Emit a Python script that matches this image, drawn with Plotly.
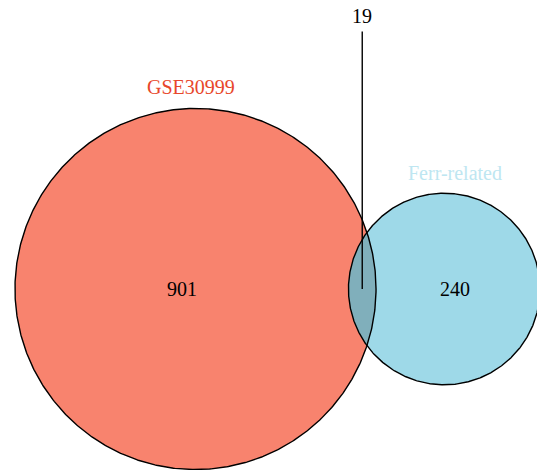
import numpy as np
import plotly.graph_objects as go

# Set sizes for the two-set Venn diagram
set_names = ["GSE30999", "Ferr-related"]
only_counts = [901, 240]
shared_count = 19

set_colors = ["#F8836E", "#9ED9E8"]
overlap_color = "#80AFBB"
title_colors = ["#E8472B", "#BEE6F1"]

# Area-proportional radii (area == count)
totals = [only_counts[0] + shared_count, only_counts[1] + shared_count]
r1, r2 = [np.sqrt(t / np.pi) for t in totals]


def lens_area(d, a, b):
    if d >= a + b:
        return 0.0
    if d <= abs(a - b):
        return np.pi * min(a, b) ** 2
    al = np.arccos((d * d + a * a - b * b) / (2 * d * a))
    be = np.arccos((d * d + b * b - a * a) / (2 * d * b))
    return a * a * (al - np.sin(2 * al) / 2) + b * b * (be - np.sin(2 * be) / 2)


lo, hi = abs(r1 - r2), r1 + r2
for _ in range(200):
    mid = (lo + hi) / 2
    if lens_area(mid, r1, r2) > shared_count:
        lo = mid
    else:
        hi = mid
d = (lo + hi) / 2

c1 = (0.0, 0.0)
c2 = (d, 0.0)

t = np.linspace(0, 2 * np.pi, 721)


def circle(cx, cy, r):
    return cx + r * np.cos(t), cy + r * np.sin(t)


# Lens outline: arc of circle 1 inside circle 2, then arc of circle 2 inside circle 1
xi = (d * d + r1 * r1 - r2 * r2) / (2 * d)
yi = np.sqrt(r1 * r1 - xi * xi)
a1 = np.arctan2(yi, xi)
a2 = np.arctan2(yi, xi - d)
th1 = np.linspace(-a1, a1, 200)
th2 = np.linspace(a2, 2 * np.pi - a2, 200)
lens_x = np.concatenate([r1 * np.cos(th1), d + r2 * np.cos(th2)])
lens_y = np.concatenate([r1 * np.sin(th1), r2 * np.sin(th2)])

fig = go.Figure()
x1, y1 = circle(*c1, r1)
x2, y2 = circle(*c2, r2)
fig.add_trace(go.Scatter(x=x1, y=y1, fill="toself", fillcolor=set_colors[0],
                         mode="none", hoverinfo="skip"))
fig.add_trace(go.Scatter(x=x2, y=y2, fill="toself", fillcolor=set_colors[1],
                         mode="none", hoverinfo="skip"))
fig.add_trace(go.Scatter(x=lens_x, y=lens_y, fill="toself", fillcolor=overlap_color,
                         mode="none", hoverinfo="skip"))
for xs, ys in [(x1, y1), (x2, y2)]:
    fig.add_trace(go.Scatter(x=xs, y=ys, mode="lines",
                             line=dict(color="black", width=1.4), hoverinfo="skip"))

# Leader line for the shared count
lens_mid = ((d - r2) + r1) / 2
leader_top = r1 + 7.3
fig.add_trace(go.Scatter(x=[lens_mid, lens_mid], y=[0, leader_top], mode="lines",
                         line=dict(color="black", width=1.4), hoverinfo="skip"))

font_family = "Liberation Serif"
annotations = [
    dict(x=(-r1 + (d - r2)) / 2, y=0, text=str(only_counts[0]), font_color="black"),
    dict(x=(r1 + d + r2) / 2 - 0.3, y=0, text=str(only_counts[1]), font_color="black"),
    dict(x=lens_mid, y=leader_top + 1.5, text=str(shared_count), font_color="black"),
    dict(x=c1[0] - 0.4, y=r1 + 2.0, text=set_names[0], font_color=title_colors[0]),
    dict(x=d + 1.0, y=r2 + 1.9, text=set_names[1], font_color=title_colors[1]),
]
for a in annotations:
    fig.add_annotation(x=a["x"], y=a["y"], text=a["text"], showarrow=False,
                       xanchor="center", yanchor="middle",
                       font=dict(family=font_family, size=20, color=a["font_color"]))

scale = 10.55  # pixels per unit
W, H = 537, 470
cx_px, cy_px = 195.5, 289.0
fig.update_layout(
    width=W, height=H, margin=dict(l=0, r=0, t=0, b=0),
    plot_bgcolor="white", paper_bgcolor="white", showlegend=False,
    xaxis=dict(range=[-cx_px / scale, (W - cx_px) / scale], visible=False, fixedrange=True),
    yaxis=dict(range=[-(H - cy_px) / scale, cy_px / scale], visible=False, fixedrange=True),
)

fig.write_html("out.html")
